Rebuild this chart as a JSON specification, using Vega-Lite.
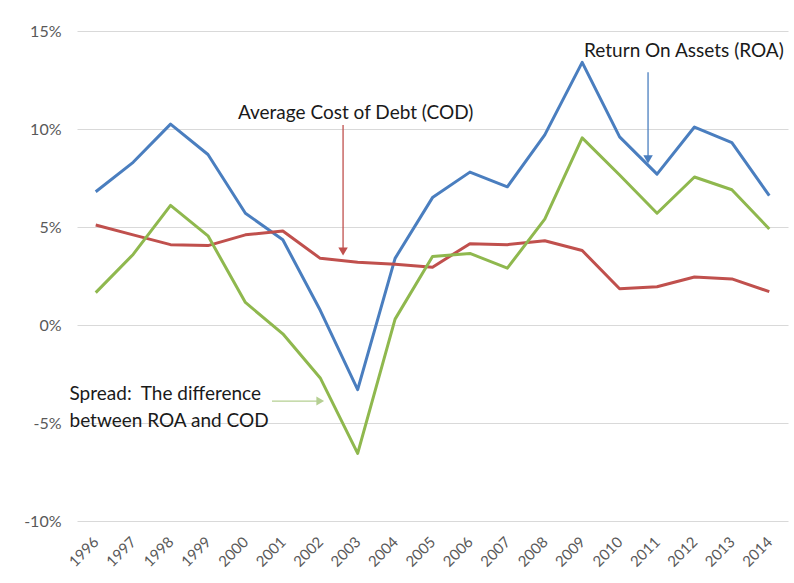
{
  "$schema": "https://vega.github.io/schema/vega-lite/v6.json",
  "width": 711,
  "height": 490,
  "autosize": {"type": "none"},
  "padding": {"left": 77, "top": 31, "right": 6, "bottom": 62},
  "background": "white",
  "config": {
    "view": {"stroke": null},
    "font": "Lato",
    "axis": {"labelFont": "Lato", "labelColor": "#595959", "labelFontSize": 16}
  },
  "datasets": {
    "series": [
      {"year": 1996, "series": "ROA", "value": 6.8},
      {"year": 1997, "series": "ROA", "value": 8.3},
      {"year": 1998, "series": "ROA", "value": 10.25},
      {"year": 1999, "series": "ROA", "value": 8.7},
      {"year": 2000, "series": "ROA", "value": 5.7},
      {"year": 2001, "series": "ROA", "value": 4.35},
      {"year": 2002, "series": "ROA", "value": 0.75},
      {"year": 2003, "series": "ROA", "value": -3.3},
      {"year": 2004, "series": "ROA", "value": 3.4},
      {"year": 2005, "series": "ROA", "value": 6.5},
      {"year": 2006, "series": "ROA", "value": 7.8},
      {"year": 2007, "series": "ROA", "value": 7.05},
      {"year": 2008, "series": "ROA", "value": 9.7},
      {"year": 2009, "series": "ROA", "value": 13.4},
      {"year": 2010, "series": "ROA", "value": 9.6},
      {"year": 2011, "series": "ROA", "value": 7.7},
      {"year": 2012, "series": "ROA", "value": 10.1},
      {"year": 2013, "series": "ROA", "value": 9.3},
      {"year": 2014, "series": "ROA", "value": 6.6},
      {"year": 1996, "series": "COD", "value": 5.1},
      {"year": 1997, "series": "COD", "value": 4.6},
      {"year": 1998, "series": "COD", "value": 4.1},
      {"year": 1999, "series": "COD", "value": 4.05},
      {"year": 2000, "series": "COD", "value": 4.6},
      {"year": 2001, "series": "COD", "value": 4.8},
      {"year": 2002, "series": "COD", "value": 3.4},
      {"year": 2003, "series": "COD", "value": 3.2},
      {"year": 2004, "series": "COD", "value": 3.1},
      {"year": 2005, "series": "COD", "value": 2.95},
      {"year": 2006, "series": "COD", "value": 4.15},
      {"year": 2007, "series": "COD", "value": 4.1},
      {"year": 2008, "series": "COD", "value": 4.3},
      {"year": 2009, "series": "COD", "value": 3.8},
      {"year": 2010, "series": "COD", "value": 1.85},
      {"year": 2011, "series": "COD", "value": 1.95},
      {"year": 2012, "series": "COD", "value": 2.45},
      {"year": 2013, "series": "COD", "value": 2.35},
      {"year": 2014, "series": "COD", "value": 1.7},
      {"year": 1996, "series": "Spread", "value": 1.65},
      {"year": 1997, "series": "Spread", "value": 3.6},
      {"year": 1998, "series": "Spread", "value": 6.1},
      {"year": 1999, "series": "Spread", "value": 4.55},
      {"year": 2000, "series": "Spread", "value": 1.15},
      {"year": 2001, "series": "Spread", "value": -0.45},
      {"year": 2002, "series": "Spread", "value": -2.7},
      {"year": 2003, "series": "Spread", "value": -6.55},
      {"year": 2004, "series": "Spread", "value": 0.3},
      {"year": 2005, "series": "Spread", "value": 3.5},
      {"year": 2006, "series": "Spread", "value": 3.65},
      {"year": 2007, "series": "Spread", "value": 2.9},
      {"year": 2008, "series": "Spread", "value": 5.4},
      {"year": 2009, "series": "Spread", "value": 9.55},
      {"year": 2010, "series": "Spread", "value": 7.65},
      {"year": 2011, "series": "Spread", "value": 5.7},
      {"year": 2012, "series": "Spread", "value": 7.55},
      {"year": 2013, "series": "Spread", "value": 6.9},
      {"year": 2014, "series": "Spread", "value": 4.9}
    ],
    "labels": [
      {"x": 1999.8, "y": 10.8, "line": "Average Cost of Debt (COD)"},
      {"x": 2009.05, "y": 14.0, "line": "Return On Assets (ROA)"},
      {"x": 1995.3, "y": -3.5, "line": "Spread:\u00a0 The difference"},
      {"x": 1995.3, "y": -4.9, "line": "between ROA and COD"}
    ],
    "vrules": [
      {"series": "COD", "x": 2002.61, "y": 10.2, "y2": 3.9},
      {"series": "ROA", "x": 2010.76, "y": 12.9, "y2": 8.6}
    ],
    "heads": [
      {"series": "COD", "x": 2002.61, "y": 3.75},
      {"series": "ROA", "x": 2010.76, "y": 8.45}
    ],
    "hrules": [
      {"series": "Spread", "x": 2000.71, "x2": 2001.95, "y": -3.88}
    ],
    "rheads": [
      {"series": "Spread", "x": 2002.0, "y": -3.88}
    ]
  },
  "layer": [
    {
      "data": {"name": "series"},
      "mark": {"type": "line", "strokeWidth": 3, "strokeJoin": "round"},
      "encoding": {
        "x": {
          "field": "year", "type": "quantitative",
          "scale": {"domain": [1995.5, 2014.5], "nice": false, "zero": false},
          "axis": {
            "title": null, "values": [1996,1997,1998,1999,2000,2001,2002,2003,2004,2005,2006,2007,2008,2009,2010,2011,2012,2013,2014],
            "tickCount": 40,
            "format": "d", "labelAngle": -45, "labelOverlap": false, "grid": false, "ticks": false, "domain": false,
            "labelPadding": 18, "labelFontSize": 15, "labelAlign": "right", "labelBaseline": "middle"
          }
        },
        "y": {
          "field": "value", "type": "quantitative",
          "scale": {"domain": [-10, 15], "nice": false},
          "axis": {
            "title": null, "values": [-10, -5, 0, 5, 10, 15],
            "labelExpr": "datum.value + '%'",
            "ticks": false, "domain": false, "gridColor": "#d9d9d9", "gridWidth": 1.2,
            "labelPadding": 16
          }
        },
        "color": {
          "field": "series", "type": "nominal",
          "scale": {"domain": ["ROA", "COD", "Spread"], "range": ["#4a7ebf", "#c0504d", "#8fb84e"]},
          "legend": null
        },
        "detail": {"field": "series"}
      }
    },
    {
      "data": {"name": "vrules"},
      "mark": {"type": "rule", "strokeWidth": 1.3},
      "encoding": {
        "x": {"field": "x", "type": "quantitative"},
        "y": {"field": "y", "type": "quantitative"},
        "y2": {"field": "y2"},
        "color": {"field": "series", "type": "nominal", "scale": {"domain": ["ROA", "COD", "Spread"], "range": ["#4a7ebf", "#c0504d", "#8fb84e"]}, "legend": null}
      }
    },
    {
      "data": {"name": "heads"},
      "mark": {"type": "point", "shape": "triangle-down", "filled": true, "size": 90, "opacity": 1},
      "encoding": {
        "x": {"field": "x", "type": "quantitative"},
        "y": {"field": "y", "type": "quantitative"},
        "color": {"field": "series", "type": "nominal", "scale": {"domain": ["ROA", "COD", "Spread"], "range": ["#4a7ebf", "#c0504d", "#8fb84e"]}, "legend": null}
      }
    },
    {
      "data": {"name": "hrules"},
      "mark": {"type": "rule", "strokeWidth": 1.3, "color": "#b5cf92"},
      "encoding": {
        "x": {"field": "x", "type": "quantitative"},
        "x2": {"field": "x2"},
        "y": {"field": "y", "type": "quantitative"}
      }
    },
    {
      "data": {"name": "rheads"},
      "mark": {"type": "point", "shape": "triangle-right", "filled": true, "size": 80, "opacity": 1, "color": "#b5cf92"},
      "encoding": {
        "x": {"field": "x", "type": "quantitative"},
        "y": {"field": "y", "type": "quantitative"}
      }
    },
    {
      "data": {"name": "labels"},
      "mark": {"type": "text", "align": "left", "baseline": "middle", "fontSize": 19, "color": "#1a1a1a", "font": "Lato"},
      "encoding": {
        "x": {"field": "x", "type": "quantitative"},
        "y": {"field": "y", "type": "quantitative"},
        "text": {"field": "line"}
      }
    }
  ]
}
